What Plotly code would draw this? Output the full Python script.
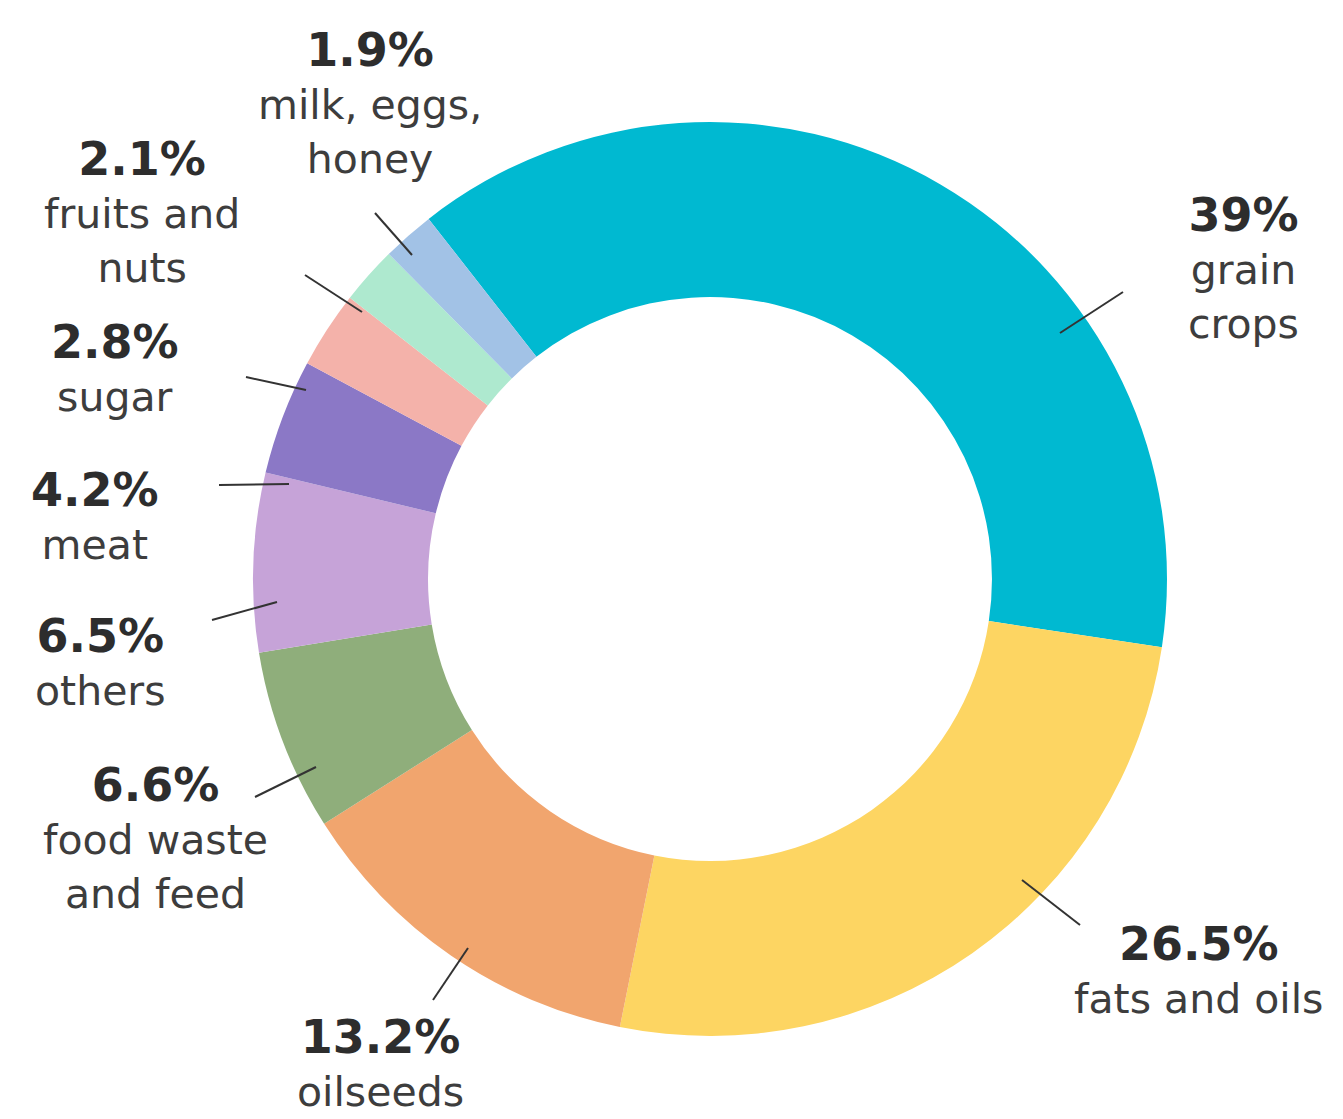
import plotly.graph_objects as go

# ---- data ----
categories = ["grain crops", "fats and oils", "oilseeds", "food waste and feed",
              "others", "meat", "sugar", "fruits and nuts", "milk, eggs, honey"]
values = [39, 26.5, 13.2, 6.6, 6.5, 4.2, 2.8, 2.1, 1.9]
pct_labels = ["39%", "26.5%", "13.2%", "6.6%", "6.5%", "4.2%", "2.8%", "2.1%", "1.9%"]
name_labels = ["grain<br>crops", "fats and oils", "oilseeds", "food waste<br>and feed",
               "others", "meat", "sugar", "fruits and<br>nuts", "milk, eggs,<br>honey"]
colors = ["#00B9D1", "#FDD562", "#F1A56E", "#8FAE7B", "#C6A3D8",
          "#8B78C6", "#F4B2AA", "#AEE9CF", "#A2C2E6"]

# ---- layout (target window-pixel positions of label blocks and leader lines) ----
OFF = 8  # page body margin
W, H = 1343 - OFF, 1119 - OFF
label_pos = [(1243, 268), (1198, 970), (380, 1063), (155, 838), (100, 662),
             (95, 516), (115, 368), (142, 212), (370, 103)]
leader = [((1060, 333), (1123, 292)), ((1022, 880), (1080, 925)), ((468, 948), (433, 1000)),
          ((316, 767), (255, 797)), ((277, 602), (212, 620)), ((289, 484), (219, 485)),
          ((306, 390), (246, 377)), ((362, 312), (305, 275)), ((412, 255), (375, 213))]

cx, cy, R = 710 - OFF, 579 - OFF, 457


def px(x, y):
    return (x - OFF) / W, 1 - (y - OFF) / H


fig = go.Figure(go.Pie(
    labels=categories, values=values, sort=False, direction="clockwise",
    rotation=-38, hole=0.617, textinfo="none", hoverinfo="label+percent",
    marker=dict(colors=colors, line=dict(width=0)),
    domain=dict(x=[(cx - R) / W, (cx + R) / W], y=[1 - (cy + R) / H, 1 - (cy - R) / H]),
    showlegend=False,
))

annotations = []
shapes = []
for pct, name, (lx, ly), (p0, p1) in zip(pct_labels, name_labels, label_pos, leader):
    ax_, ay_ = px(lx, ly)
    annotations.append(dict(
        x=ax_, y=ay_, xref="paper", yref="paper", xanchor="center", yanchor="middle",
        showarrow=False, align="center",
        text=f"<span style='font-size:46px;color:#2d2d2d'><b>{pct}</b></span><br>{name}",
        font=dict(family="DejaVu Sans", size=41, color="#3d3d3d"),
    ))
    x0, y0 = px(*p0)
    x1, y1 = px(*p1)
    shapes.append(dict(type="line", xref="paper", yref="paper", x0=x0, y0=y0, x1=x1, y1=y1,
                       line=dict(color="#333333", width=2)))

fig.update_layout(
    width=W, height=H, margin=dict(l=0, r=0, t=0, b=0),
    paper_bgcolor="white", plot_bgcolor="white",
    annotations=annotations, shapes=shapes,
)
fig.write_html("out.html")
